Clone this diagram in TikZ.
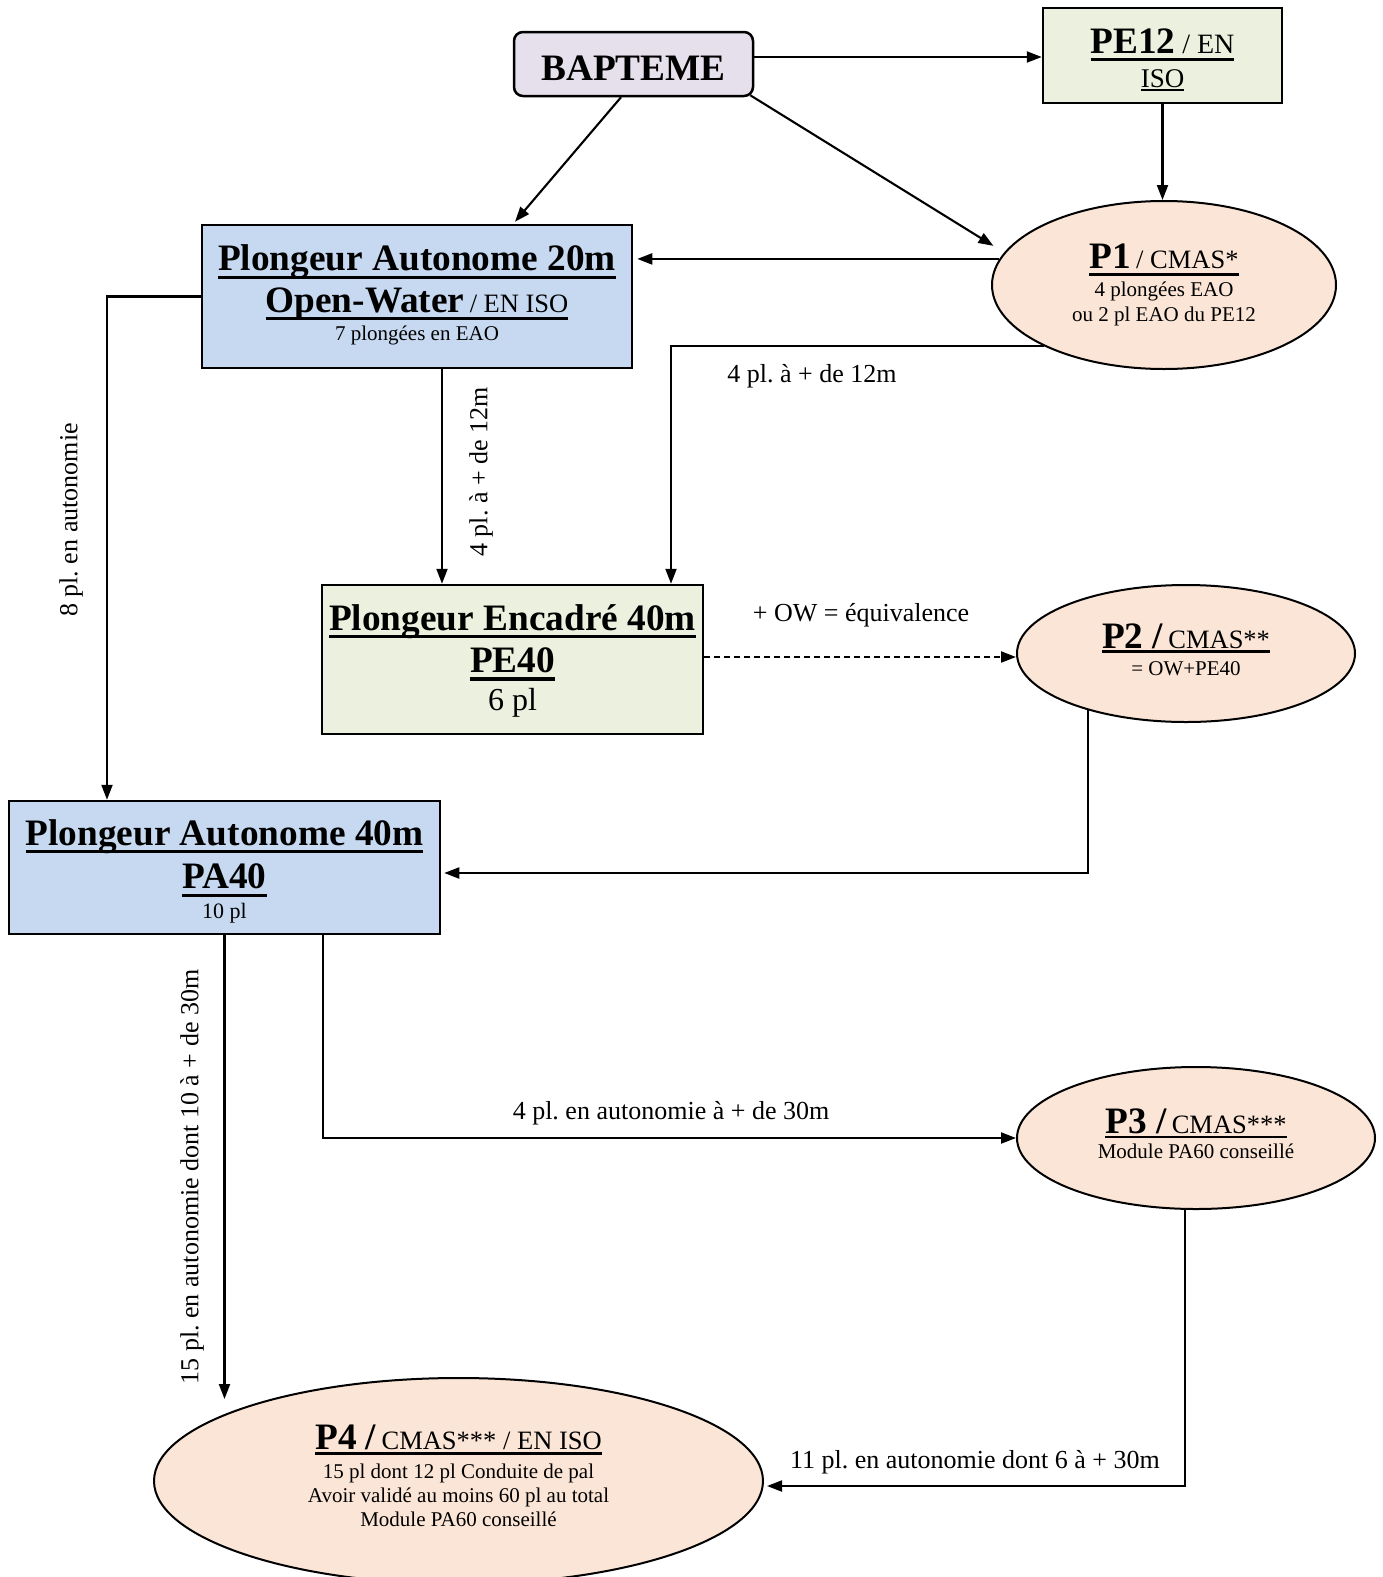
\documentclass[tikz,border=0pt]{standalone}
\usepackage{fontspec}
\setmainfont{Liberation Serif}
\usetikzlibrary{arrows.meta,shapes.geometric,calc}
\definecolor{lav}{HTML}{E5E0EC}
\definecolor{grn}{HTML}{EBF1DE}
\definecolor{blu}{HTML}{C6D9F1}
\definecolor{pch}{HTML}{FBE5D6}
\frenchspacing
\newcommand\myul[3]{\setbox0\hbox{#3}\leavevmode\rlap{\rule[#1]{\wd0}{#2}}\box0}
\newcommand\tailsp[1]{\rule[-#1]{0pt}{#1}}
\newcommand\topsp[1]{\rule{0pt}{#1}}
\newcommand\hdf{\fontsize{37.3}{40}\selectfont\bfseries}
\newcommand\mdf{\fontsize{26.5}{30}\selectfont\mdseries}
\begin{document}
\begin{tikzpicture}[x=1pt,y=-1pt,
  box/.style={draw=black, line width=2.5pt, inner sep=0pt, align=center},
  ell/.style={ellipse, draw=black, line width=2pt, fill=pch, inner sep=0pt, align=center},
  arr/.style={line width=2.1pt, -{Triangle[length=15pt,width=11pt]}},
  dasharr/.style={arr, dash pattern=on 6pt off 4pt},
  lbl/.style={font=\fontsize{26}{30}\selectfont, inner sep=0pt}]
\useasboundingbox (0,0) rectangle (1383,1577);

% nodes
\node[box, fill=lav, rounded corners=9pt, minimum width=239pt, minimum height=64pt,
      text height=32pt, text depth=0pt, font=\hdf] (bapt) at (633.5,64) {BAPTEME};
\node[box, fill=grn, minimum width=239pt, minimum height=95pt,
      font=\fontsize{27}{34}\selectfont] (pe12) at (1162.5,55.5)
  {\topsp{33pt}\myul{-7.5pt}{3pt}{{\hdf PE12} {\fontsize{28}{30}\selectfont / EN}}\\
   \myul{-3.5pt}{2pt}{ISO}};
\node[box, fill=blu, minimum width=430pt, minimum height=143pt,
      font=\fontsize{21}{42}\selectfont] (pa20) at (417,296.5)
  {\myul{-8pt}{3pt}{\hdf Plongeur Autonome 20m}\\
   \myul{-7pt}{3pt}{{\hdf Open-Water} {\mdf / EN ISO}}\\[-14pt]
   7 plongées en EAO\tailsp{7.4pt}};
\node[ell, minimum width=344pt, minimum height=168pt,
      font=\fontsize{21}{25}\selectfont] (p1) at (1164,285)
  {\myul{-7pt}{3pt}{{\hdf P1} {\mdf / CMAS*}}\\[3pt]
   4 plongées EAO\\ ou 2 pl EAO du PE12};
\node[box, fill=grn, minimum width=381pt, minimum height=149pt,
      font=\fontsize{32}{42}\selectfont] (pe40) at (512.5,659.5)
  {\topsp{28.5pt}\myul{-8pt}{3.5pt}{\hdf Plongeur Encadré 40m}\\
   \myul{-8.5pt}{3.5pt}{\hdf PE40}\\[-4pt] 6 pl};
\node[ell, minimum width=338pt, minimum height=137pt,
      font=\fontsize{21}{27}\selectfont] (p2) at (1186,653.5)
  {\myul{-4.5pt}{3pt}{{\hdf P2 /} {\mdf CMAS**}}\\ = OW+PE40\tailsp{8pt}};
\node[box, fill=blu, minimum width=431pt, minimum height=133pt,
      font=\fontsize{22}{43}\selectfont] (pa40) at (224.5,867.5)
  {\topsp{33.5pt}\myul{-8pt}{3pt}{\hdf Plongeur Autonome 40m}\\
   \myul{-8.3pt}{3pt}{\hdf PA40}\\[-13pt] 10 pl};
\node[ell, minimum width=358pt, minimum height=142pt,
      font=\fontsize{21}{25}\selectfont] (p3) at (1196,1138)
  {\myul{-5pt}{2.7pt}{{\hdf P3 /} {\mdf CMAS***}}\\ Module PA60 conseillé\tailsp{9pt}};
\node[ell, minimum width=609pt, minimum height=206pt,
      font=\fontsize{21}{24}\selectfont] (p4) at (458.5,1481)
  {\myul{-5.5pt}{3pt}{{\hdf P4 /} {\mdf CMAS*** / EN ISO}}\\[5pt]
   15 pl dont 12 pl Conduite de pal\\
   Avoir validé au moins 60 pl au total\\
   Module PA60 conseillé\tailsp{11pt}};

% connectors
\draw[arr] ($(bapt.east)+(0,-7)$) -- ($(pe12.west)+(0,1.5)$);
\draw[arr] ($(bapt.south)+(-12.5,0)$) -- ($(pa20.north)+(98,-2)$);
\draw[arr] ($(bapt.south east)+(-4,-2)$) -- ($(p1.167)+(-14,-3)$);
\draw[arr] (pe12.south) -- (pe12.south |- p1.north);
\draw[arr] (p1.171.7) -- ($(pa20.east |- p1.171.7)+(4,0)$);
\draw[arr] (pa20.west) -| ($(pa40.north)+(-117.5,0)$);
\node[lbl, rotate=90] (l8) at (71,520) {8 pl. en autonomie};
\draw[arr] ($(pa20.south)+(25,0)$) coordinate (s7) -- (s7 |- pe40.north);
\node[lbl, rotate=90] (l12a) at (481,472) {4 pl. à + de 12m};
\draw[arr] (p1.207.3) -| ($(pe40.north)+(158.5,0)$);
\node[lbl, anchor=base] (l12b) at (812,382) {4 pl. à + de 12m};
\draw[dasharr] ($(pe40.east)+(0,-2.5)$) coordinate (s9) -- (s9 -| p2.west);
\node[lbl, anchor=base] (lequ) at (861,621) {+ OW = équivalence};
\draw[arr] (p2.210.2) |- ($(pa40.east)+(3,5.5)$);
\draw[arr] (pa40.south) -- ($(pa40.south |- p4.north)+(0,22)$);
\node[lbl, rotate=90] (l15) at (192,1177) {15 pl. en autonomie dont 10 à + de 30m};
\draw[arr] ($(pa40.south)+(98.5,0)$) |- (p3.west);
\node[lbl, anchor=base] (l30) at (671,1119) {4 pl. en autonomie à + de 30m};
\draw[arr] ($(p3.south)+(-11,0)$) |- ($(p4.east)+(3,5)$);
\node[lbl, anchor=base] (l11) at (975,1468) {11 pl. en autonomie dont 6 à + 30m};
\end{tikzpicture}
\end{document}
